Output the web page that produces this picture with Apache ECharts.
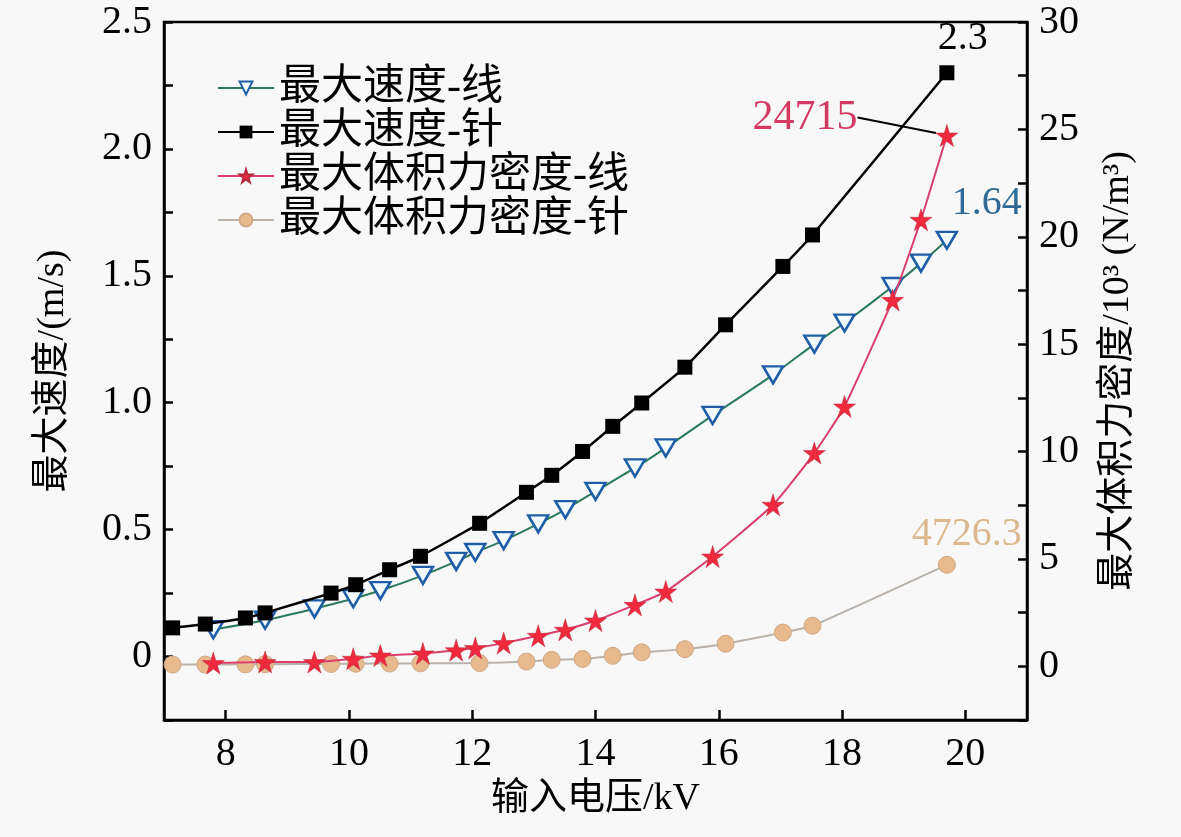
<!DOCTYPE html>
<html>
<head>
<meta charset="utf-8">
<script src="https://cdn.jsdelivr.net/npm/echarts@6/dist/echarts.min.js"></script>
<style>
  html, body { margin: 0; padding: 0; background: #f8f8f8; }
  #chart { width: 1181px; height: 837px; }
</style>
</head>
<body>
<div id="chart"></div>
<script>
// 输入电压 (kV) 与最大速度 / 最大体积力密度
const seriesNames = ['最大速度-线', '最大速度-针', '最大体积力密度-线', '最大体积力密度-针']
const voltLine = [7.80, 8.64, 9.44, 10.07, 10.51, 11.20, 11.74, 12.05, 12.51, 13.07, 13.51, 14.00, 14.64, 15.14, 15.90, 16.88, 17.55, 18.04, 18.82, 19.28, 19.70]
const speedLine = [0.106, 0.143, 0.188, 0.228, 0.26, 0.32, 0.375, 0.41, 0.457, 0.523, 0.579, 0.651, 0.743, 0.822, 0.95, 1.11, 1.231, 1.314, 1.458, 1.55, 1.64]
const forceLine = [0.15, 0.2, 0.2, 0.35, 0.5, 0.6, 0.75, 0.85, 1.08, 1.42, 1.7, 2.13, 2.86, 3.48, 5.11, 7.52, 9.93, 12.1, 17.06, 20.79, 24.715]
const voltNeedle = [7.14, 7.67, 8.32, 8.64, 9.71, 10.11, 10.66, 11.16, 12.12, 12.88, 13.29, 13.79, 14.28, 14.75, 15.45, 16.11, 17.04, 17.52, 19.70]
const speedNeedle = [0.113, 0.128, 0.152, 0.172, 0.25, 0.283, 0.342, 0.395, 0.525, 0.647, 0.714, 0.808, 0.907, 0.999, 1.14, 1.307, 1.537, 1.661, 2.3]
const forceNeedle = [0.08, 0.08, 0.09, 0.1, 0.11, 0.12, 0.13, 0.14, 0.15, 0.22, 0.3, 0.34, 0.49, 0.65, 0.8, 1.05, 1.57, 1.89, 4.7263]
const xTicks = [8, 10, 12, 14, 16, 18, 20]

const serif = "'Liberation Serif', 'Noto Sans CJK SC', serif"
const starPath = 'path://M50,0 L61,35 L98,35 L68,57 L79,91 L50,70 L21,91 L32,57 L2,35 L39,35 Z'

// 把 x/y 数组拼成点, 最后一个点带数值标签
function pairs(xs, ys, label) {
    return xs.map(function (x, i) {
        let item = { value: [x, ys[i]] }
        if (i === xs.length - 1) item.label = label
        return item
    })
}

let myChart = echarts.init(document.getElementById('chart'))
let option = {
    backgroundColor: '#f8f8f8',
    animation: false,
    textStyle: { fontFamily: serif },
    grid: {
        left: 164,
        right: 154,
        top: 22,
        bottom: 117,
        show: true,
        borderColor: '#000',
        borderWidth: 2.5,
        backgroundColor: 'transparent'
    },
    legend: {
        orient: 'vertical',
        left: 212,
        top: 62,
        itemWidth: 56,
        itemHeight: 16,
        itemGap: 2,
        data: seriesNames,
        textStyle: { fontFamily: serif, fontSize: 42, color: '#000' }
    },
    xAxis: {
        type: 'value',
        min: 7,
        max: 21,
        name: '输入电压/kV',
        nameLocation: 'middle',
        nameGap: 60,
        nameTextStyle: { fontFamily: serif, fontSize: 38, color: '#000' },
        axisLine: { onZero: false, lineStyle: { color: '#000', width: 2.5 } },
        axisTick: { inside: true, length: 10, customValues: xTicks, lineStyle: { width: 2.5 } },
        axisLabel: { customValues: xTicks, fontSize: 40, color: '#000', margin: 14 },
        splitLine: { show: false }
    },
    yAxis: [{
        type: 'value',
        min: -0.25,
        max: 2.5,
        interval: 0.25,
        name: '最大速度/(m/s)',
        nameLocation: 'middle',
        nameRotate: 90,
        nameGap: 92,
        nameTextStyle: { fontFamily: serif, fontSize: 38, color: '#000' },
        axisLine: { show: true, onZero: false, lineStyle: { color: '#000', width: 2.5 } },
        axisTick: { inside: true, length: 9, lineStyle: { width: 2.5 } },
        axisLabel: {
            fontSize: 40,
            color: '#000',
            margin: 12,
            formatter: function (v) {
                if (v < 0 || Math.round(v * 100) % 50 !== 0) return ''
                return v === 0 ? '0' : v.toFixed(1)
            }
        },
        splitLine: { show: false }
    }, {
        type: 'value',
        position: 'right',
        min: -2.5,
        max: 30,
        interval: 2.5,
        name: '最大体积力密度/10³ (N/m³)',
        nameLocation: 'middle',
        nameRotate: 90,
        nameGap: 72,
        nameTextStyle: { fontFamily: serif, fontSize: 38, color: '#000' },
        axisLine: { show: true, onZero: false, lineStyle: { color: '#000', width: 2.5 } },
        axisTick: { inside: true, length: 9, lineStyle: { width: 2.5 } },
        axisLabel: {
            fontSize: 40,
            color: '#000',
            margin: 12,
            formatter: function (v) {
                if (v < 0 || Math.round(v * 10) % 50 !== 0) return ''
                return String(v)
            }
        },
        splitLine: { show: false }
    }],
    series: [{
        name: seriesNames[0],
        type: 'line',
        yAxisIndex: 0,
        smooth: 0.15,
        symbol: 'triangle',
        symbolRotate: 180,
        symbolSize: [20, 17],
        lineStyle: { color: '#2b7a5c', width: 2 },
        itemStyle: { color: '#f2fbff', borderColor: '#1f5ea6', borderWidth: 2.5 },
        data: pairs(voltLine, speedLine, {
            show: true, position: 'top', offset: [40, -2],
            fontSize: 40, color: '#2f6a94',
            formatter: function (p) { return p.value[1].toFixed(2) }
        }),
        z: 3
    }, {
        name: seriesNames[1],
        type: 'line',
        yAxisIndex: 0,
        smooth: 0.15,
        symbol: 'rect',
        symbolSize: 15,
        lineStyle: { color: '#000', width: 2.5 },
        itemStyle: { color: '#000' },
        data: pairs(voltNeedle, speedNeedle, {
            show: true, position: 'top', offset: [16, -2],
            fontSize: 40, color: '#000',
            formatter: function (p) { return String(p.value[1]) }
        }),
        z: 4
    }, {
        name: seriesNames[2],
        type: 'line',
        yAxisIndex: 1,
        smooth: 0.15,
        symbol: starPath,
        symbolSize: 22,
        lineStyle: { color: '#d83f6c', width: 2 },
        itemStyle: { color: '#ef2a3e', borderColor: '#b8283a', borderWidth: 0.5 },
        data: pairs(voltLine, forceLine, {
            show: true, position: 'left', distance: 6,
            fontSize: 42, color: '#d33a62',
            formatter: function (p) { return String(Math.round(p.value[1] * 1000)) }
        }),
        labelLayout: { dx: -72, dy: -18 },
        labelLine: { show: true, lineStyle: { color: '#000', width: 2 } },
        z: 5
    }, {
        name: seriesNames[3],
        type: 'line',
        yAxisIndex: 1,
        smooth: 0.15,
        symbol: 'circle',
        symbolSize: 17,
        lineStyle: { color: '#b9b2ab', width: 2 },
        itemStyle: { color: '#e9b98e', borderColor: '#cfa884', borderWidth: 1 },
        data: pairs(voltNeedle, forceNeedle, {
            show: true, position: 'top', offset: [20, 4],
            fontSize: 40, color: '#dcb88e',
            formatter: function (p) { return (p.value[1] * 1000).toFixed(1) }
        }),
        z: 2
    }]
}
myChart.setOption(option)
window.addEventListener('resize', function () {
    myChart.resize()
})
</script>
</body>
</html>
